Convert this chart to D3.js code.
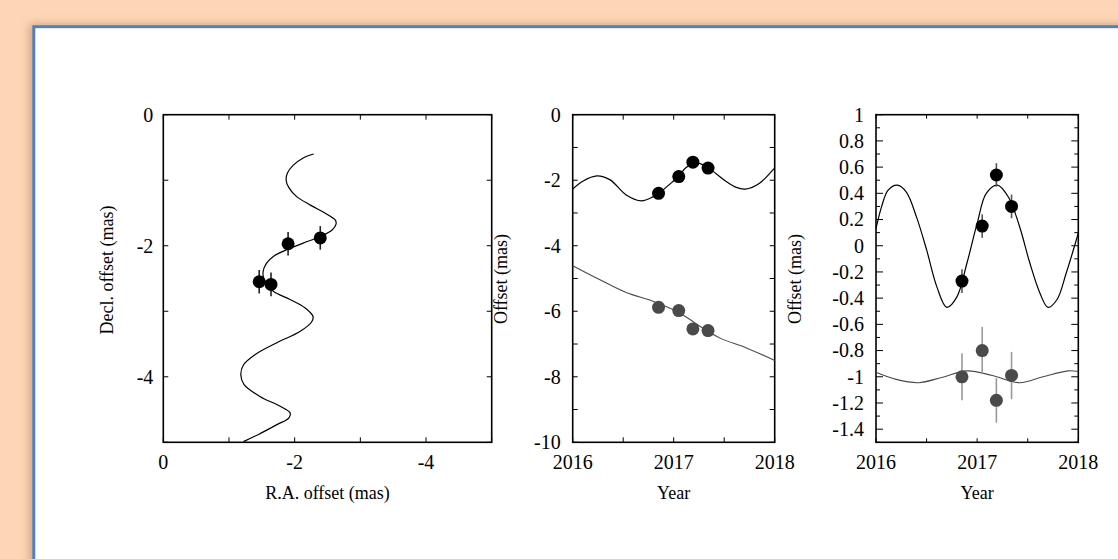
<!DOCTYPE html>
<html>
<head>
<meta charset="utf-8">
<script src="https://cdn.jsdelivr.net/npm/d3@7"></script>
<style>
  html, body { margin: 0; padding: 0; background: #fdd6b5; }
  svg { display: block; }
  text { font-family: "Liberation Serif", "Times New Roman", serif; fill: #000; }
</style>
</head>
<body>
<svg id="chart"></svg>
<script>
const W = 1118, H = 559;

// observation epochs (decimal year)
const epochs = [2016.85, 2017.05, 2017.19, 2017.34];

// panel 1: sky positions
const raPos = [-1.46, -1.64, -1.90, -2.39];
const decPos = [-2.55, -2.59, -1.97, -1.88];
const posErr = [0.18, 0.18, 0.18, 0.18];
const skyTrack = [
  [-2.29, -0.60], [-2.13, -0.66], [-1.98, -0.77], [-1.89, -0.89], [-1.87, -1.00],
  [-1.91, -1.11], [-2.03, -1.25], [-2.24, -1.38], [-2.46, -1.50], [-2.62, -1.61],
  [-2.63, -1.67], [-2.57, -1.76], [-2.39, -1.86], [-2.13, -1.96], [-1.88, -2.06],
  [-1.68, -2.16], [-1.57, -2.27], [-1.52, -2.39], [-1.53, -2.50], [-1.60, -2.61],
  [-1.68, -2.70], [-1.93, -2.82], [-2.16, -2.95], [-2.28, -3.08], [-2.26, -3.16],
  [-2.08, -3.31], [-1.73, -3.48], [-1.40, -3.66], [-1.22, -3.82], [-1.18, -3.97],
  [-1.23, -4.12], [-1.47, -4.30], [-1.78, -4.45], [-1.93, -4.55], [-1.91, -4.63],
  [-1.73, -4.73], [-1.45, -4.88], [-1.22, -4.99]
];

// panel 2: offsets vs time
const raOff = [-2.40, -1.89, -1.45, -1.63];
const decOff = [-5.88, -5.98, -6.54, -6.59];
const raModel = [
  [2016.00, -2.27], [2016.10, -2.03], [2016.24, -1.87], [2016.37, -1.99], [2016.53, -2.45],
  [2016.68, -2.63], [2016.80, -2.50], [2016.85, -2.41], [2016.95, -2.15], [2017.05, -1.88],
  [2017.12, -1.62], [2017.22, -1.46], [2017.34, -1.62], [2017.42, -1.80], [2017.52, -2.04],
  [2017.62, -2.22], [2017.71, -2.27], [2017.85, -2.09], [2018.00, -1.62]
];
const decModel = [
  [2016.00, -4.61], [2016.27, -5.04], [2016.53, -5.43], [2016.80, -5.70], [2017.06, -6.05],
  [2017.26, -6.46], [2017.46, -6.82], [2017.72, -7.12], [2018.00, -7.50]
];

// panel 3: residual offsets vs time
const raRes = [-0.27, 0.15, 0.54, 0.30];
const raResErr = [0.09, 0.09, 0.09, 0.09];
const decRes = [-1.00, -0.80, -1.18, -0.99];
const decResErr = [0.18, 0.18, 0.17, 0.18];
const raWobble = [
  [2016.00, 0.13], [2016.056, 0.30], [2016.12, 0.425], [2016.21, 0.463], [2016.30, 0.41],
  [2016.40, 0.22], [2016.50, -0.03], [2016.60, -0.31], [2016.70, -0.47], [2016.80, -0.39],
  [2016.90, -0.13], [2017.00, 0.17], [2017.09, 0.40], [2017.20, 0.463], [2017.31, 0.37],
  [2017.42, 0.145], [2017.52, -0.13], [2017.62, -0.36], [2017.70, -0.47], [2017.79, -0.41],
  [2017.88, -0.21], [2018.00, 0.095]
];
const decWobble = [
  [2016.00, -0.965], [2016.20, -1.02], [2016.42, -1.045], [2016.65, -1.005], [2016.90, -0.955],
  [2017.15, -0.99], [2017.42, -1.045], [2017.65, -1.00], [2017.90, -0.955], [2018.00, -0.96]
];

const svg = d3.select("#chart")
  .attr("width", W)
  .attr("height", H)
  .attr("viewBox", [0, 0, W, H]);

const defs = svg.append("defs");
defs.append("filter")
  .attr("id", "shadow")
  .attr("x", "-10%").attr("y", "-10%").attr("width", "120%").attr("height", "120%")
  .append("feDropShadow")
  .attr("dx", -3).attr("dy", -1).attr("stdDeviation", 4)
  .attr("flood-color", "#9a6a45").attr("flood-opacity", 0.45);

svg.append("rect").attr("width", W).attr("height", H).attr("fill", "#fdd6b5");
svg.append("rect")
  .attr("x", 33.8).attr("y", 26.7)
  .attr("width", W).attr("height", H)
  .attr("fill", "#fff")
  .attr("stroke", "#4f81bd")
  .attr("stroke-width", 3)
  .attr("filter", "url(#shadow)");

const plotTop = 114.7, plotBottom = 442.3;

const drawFrame = (g, x, y, opt) => {
  const [x0, x1] = x.range(), [y0, y1] = [plotTop, plotBottom];
  const tick = (ax, ay, bx, by) => g.append("line")
    .attr("x1", ax).attr("y1", ay).attr("x2", bx).attr("y2", by)
    .attr("stroke", "#000").attr("stroke-width", 1);

  opt.xTicks.forEach(v => {
    const len = opt.xMajor(v) ? opt.major : opt.minor;
    tick(x(v), y1, x(v), y1 - len);
    tick(x(v), y0, x(v), y0 + len);
  });
  opt.yTicks.forEach(v => {
    const len = opt.yMajor(v) ? opt.major : opt.minor;
    tick(x0, y(v), x0 + len, y(v));
    tick(x1, y(v), x1 - len, y(v));
  });

  g.append("rect")
    .attr("x", x0).attr("y", y0)
    .attr("width", x1 - x0).attr("height", y1 - y0)
    .attr("fill", "none").attr("stroke", "#000").attr("stroke-width", 1.6);

  g.selectAll(".xl").data(opt.xLabels).enter().append("text")
    .attr("x", d => x(d)).attr("y", y1 + 27)
    .attr("text-anchor", "middle")
    .style("font-size", "20px")
    .text(opt.xFormat);

  g.selectAll(".yl").data(opt.yLabels).enter().append("text")
    .attr("x", x0 - opt.yGap).attr("y", d => y(d))
    .attr("dy", "0.34em")
    .attr("text-anchor", "end")
    .style("font-size", "20px")
    .text(opt.yFormat);

  g.append("text")
    .attr("x", (x0 + x1) / 2).attr("y", 499)
    .attr("text-anchor", "middle")
    .style("font-size", "18px")
    .text(opt.xTitle);

  g.append("text")
    .attr("transform", `translate(${opt.yTitleX},${opt.yTitleY}) rotate(-90)`)
    .attr("dy", "0.35em")
    .attr("text-anchor", "middle")
    .style("font-size", "18px")
    .text(opt.yTitle);
};

const drawCurve = (g, pts, x, y, color, width) => {
  g.append("path")
    .datum(pts)
    .attr("d", d3.line().x(d => x(d[0])).y(d => y(d[1])).curve(d3.curveCatmullRom.alpha(0.5)))
    .attr("fill", "none")
    .attr("stroke", color)
    .attr("stroke-width", width);
};

const drawPoints = (g, xs, ys, errs, x, y, color, errColor) => {
  const data = xs.map((v, i) => ({ x: v, y: ys[i], e: errs ? errs[i] : 0 }));
  if (errs) {
    g.selectAll(null).data(data).enter().append("line")
      .attr("x1", d => x(d.x)).attr("x2", d => x(d.x))
      .attr("y1", d => y(d.y - d.e)).attr("y2", d => y(d.y + d.e))
      .attr("stroke", errColor).attr("stroke-width", 1.6);
  }
  g.selectAll(null).data(data).enter().append("circle")
    .attr("cx", d => x(d.x)).attr("cy", d => y(d.y))
    .attr("r", 6.5)
    .attr("fill", color);
};

const fmt = d => String(d);
const isEven = v => Math.abs(Math.round(v) % 2) === 0;

// panel 1
{
  const g = svg.append("g");
  const x = d3.scaleLinear().domain([0, -5]).range([163.3, 491.7]);
  const y = d3.scaleLinear().domain([0, -5]).range([plotTop, plotBottom]);
  drawFrame(g, x, y, {
    xTicks: d3.range(0, -5.01, -1), yTicks: d3.range(0, -5.01, -1),
    xMajor: () => true, yMajor: () => true, major: 5, minor: 5,
    xLabels: [0, -2, -4], yLabels: [0, -2, -4],
    xFormat: fmt, yFormat: fmt, yGap: 10,
    xTitle: "R.A. offset (mas)", yTitle: "Decl. offset (mas)",
    yTitleX: 106.5, yTitleY: 270
  });
  drawCurve(g, skyTrack, x, y, "#000", 1.2);
  drawPoints(g, raPos, decPos, posErr, x, y, "#000", "#222");
}

// panel 2
{
  const g = svg.append("g");
  const x = d3.scaleLinear().domain([2016, 2018]).range([572.7, 774.7]);
  const y = d3.scaleLinear().domain([0, -10]).range([plotTop, plotBottom]);
  drawFrame(g, x, y, {
    xTicks: d3.range(2016, 2018.01, 0.5), yTicks: d3.range(0, -10.01, -1),
    xMajor: () => true, yMajor: () => true, major: 5, minor: 5,
    xLabels: [2016, 2017, 2018], yLabels: [0, -2, -4, -6, -8, -10],
    xFormat: d => d, yFormat: fmt, yGap: 12,
    xTitle: "Year", yTitle: "Offset (mas)",
    yTitleX: 500.5, yTitleY: 279
  });
  drawCurve(g, decModel, x, y, "#4a4a4a", 1.1);
  drawCurve(g, raModel, x, y, "#000", 1.2);
  drawPoints(g, epochs, decOff, null, x, y, "#4a4a4a");
  drawPoints(g, epochs, raOff, null, x, y, "#000");
}

// panel 3
{
  const g = svg.append("g");
  const x = d3.scaleLinear().domain([2016, 2018]).range([876, 1078.3]);
  const y = d3.scaleLinear().domain([1, -1.5]).range([plotTop, plotBottom]);
  const yTicks = d3.range(10, -15.01, -1).map(v => v / 10);
  drawFrame(g, x, y, {
    xTicks: d3.range(2016, 2018.01, 0.5), yTicks,
    xMajor: () => false, yMajor: v => isEven(v * 10), major: 7, minor: 4,
    xLabels: [2016, 2017, 2018],
    yLabels: d3.range(10, -14.01, -2).map(v => v / 10),
    xFormat: d => d, yFormat: d => String(Math.round(d * 10) / 10), yGap: 12,
    xTitle: "Year", yTitle: "Offset (mas)",
    yTitleX: 795, yTitleY: 279
  });
  drawCurve(g, decWobble, x, y, "#4a4a4a", 1.1);
  drawCurve(g, raWobble, x, y, "#000", 1.2);
  drawPoints(g, epochs, decRes, decResErr, x, y, "#4a4a4a", "#9a9a9a");
  drawPoints(g, epochs, raRes, raResErr, x, y, "#000", "#555");
}
</script>
</body>
</html>
